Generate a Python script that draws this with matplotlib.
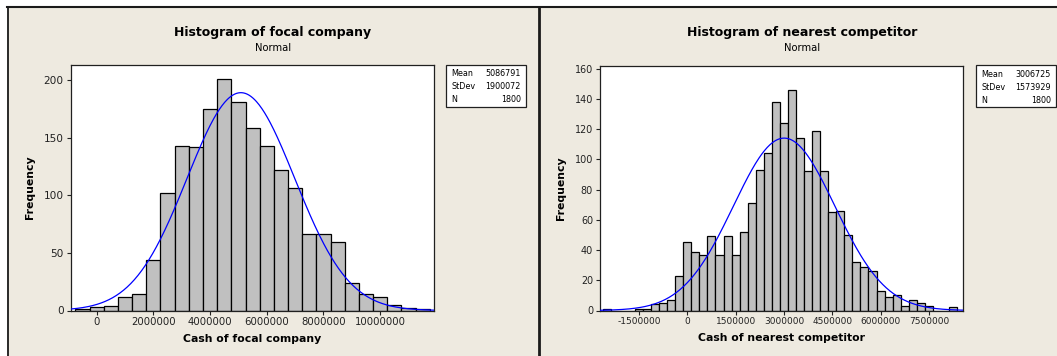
import numpy as np
import matplotlib
matplotlib.use("Agg")
import matplotlib.pyplot as plt
from matplotlib.patches import Rectangle
from matplotlib.lines import Line2D

# focal company: bin midpoints and counts (bin width 500000)
focal_mid = [-500000, 0, 500000, 1000000, 1500000, 2000000, 2500000, 3000000,
             3500000, 4000000, 4500000, 5000000, 5500000, 6000000, 6500000,
             7000000, 7500000, 8000000, 8500000, 9000000, 9500000, 10000000,
             10500000, 11000000, 11500000]
focal_cnt = [1, 3, 4, 12, 14, 44, 102, 143, 142, 175, 201, 181, 158, 143, 122,
             106, 66, 66, 59, 24, 14, 12, 5, 2, 1]
focal_stats = {"Mean": 5086791, "StDev": 1900072, "N": 1800}

# nearest competitor: bin midpoints and counts (bin width 250000)
comp_mid = [-2500000, -2250000, -2000000, -1750000, -1500000, -1250000,
            -1000000, -750000, -500000, -250000, 0, 250000, 500000, 750000,
            1000000, 1250000, 1500000, 1750000, 2000000, 2250000, 2500000,
            2750000, 3000000, 3250000, 3500000, 3750000, 4000000, 4250000,
            4500000, 4750000, 5000000, 5250000, 5500000, 5750000, 6000000,
            6250000, 6500000, 6750000, 7000000, 7250000, 7500000, 7750000,
            8000000, 8250000]
comp_cnt = [1, 0, 0, 0, 1, 1, 4, 5, 7, 23, 45, 39, 37, 49, 37, 49, 37, 52, 71,
            93, 104, 138, 124, 146, 114, 92, 119, 92, 65, 66, 50, 32, 29, 26,
            13, 9, 10, 3, 7, 5, 3, 0, 0, 2]
comp_stats = {"Mean": 3006725, "StDev": 1573929, "N": 1800}

focal_xticks = [0, 2000000, 4000000, 6000000, 8000000, 10000000]
comp_xticks = [-1500000, 0, 1500000, 3000000, 4500000, 6000000, 7500000]

W, H = 1057, 356
BG = "#EEEAE0"
plt.rcParams["font.family"] = "DejaVu Sans"

fig = plt.figure(figsize=(W / 100, H / 100), dpi=100)
fig.patch.set_facecolor("white")


def fx(px):
    return px / W


def fy(py):
    return 1 - py / H


# panel backgrounds and frame lines
fig.patches.append(Rectangle((fx(7), 0), fx(532), fy(6), transform=fig.transFigure,
                             facecolor=BG, edgecolor="none", zorder=-2))
fig.patches.append(Rectangle((fx(539), 0), fx(518), fy(6), transform=fig.transFigure,
                             facecolor=BG, edgecolor="none", zorder=-2))
fig.lines.append(Line2D([fx(7), 1], [fy(6.5), fy(6.5)], transform=fig.transFigure,
                        color="#1a1a1a", lw=1.5, zorder=-1))
fig.lines.append(Line2D([fx(7.5), fx(7.5)], [0, fy(6.5)], transform=fig.transFigure,
                        color="#1a1a1a", lw=1.3, zorder=-1))
fig.lines.append(Line2D([fx(539), fx(539)], [0, fy(6.5)], transform=fig.transFigure,
                        color="#1a1a1a", lw=2, zorder=-1))


def panel(rect, mids, cnts, width, stats, xlim, ylim, yticks, xticks,
          title, xlabel, title_x, box, tick_fs, ytick_fs):
    ax = fig.add_axes(rect)
    ax.set_facecolor("white")
    ax.bar(mids, cnts, width=width, color="#C0C0C0", edgecolor="black",
           linewidth=0.9, zorder=2)
    xs = np.linspace(xlim[0], xlim[1], 400)
    m, s, n = stats["Mean"], stats["StDev"], stats["N"]
    ys = n * width / (s * np.sqrt(2 * np.pi)) * np.exp(-0.5 * ((xs - m) / s) ** 2)
    ax.plot(xs, ys, color="#0000FF", lw=0.9, zorder=3)
    ax.set_xlim(xlim)
    ax.set_ylim(ylim)
    ax.set_xticks(xticks)
    ax.set_xticklabels([str(t) for t in xticks], fontsize=tick_fs)
    ax.set_yticks(yticks)
    ax.set_yticklabels([str(t) for t in yticks], fontsize=ytick_fs)
    ax.tick_params(direction="out", length=3, width=0.8, pad=2, colors="#222222")
    for sp in ax.spines.values():
        sp.set_linewidth(0.9)
        sp.set_color("#202020")
    ax.set_xlabel(xlabel, fontsize=7.8, fontweight="bold", labelpad=5)
    ax.set_ylabel("Frequency", fontsize=7.8, fontweight="bold", labelpad=6)

    fig.text(fx(title_x), fy(32.5), title, fontsize=9, fontweight="bold",
             ha="center", va="center")
    fig.text(fx(title_x), fy(48), "Normal", fontsize=7.2, ha="center", va="center")

    bx0, by0, bx1, by1 = box
    fig.patches.append(Rectangle((fx(bx0), fy(by1)), fx(bx1 - bx0), (by1 - by0) / H,
                                 transform=fig.transFigure, facecolor="white",
                                 edgecolor="#202020", lw=0.9, zorder=1))
    for i, key in enumerate(["Mean", "StDev", "N"]):
        yy = fy(by0 + 9 + i * 13.2)
        fig.text(fx(bx0 + 5), yy, key, fontsize=5.8, ha="left", va="center")
        fig.text(fx(bx1 - 5), yy, str(stats[key]), fontsize=5.8, ha="right",
                 va="center")
    return ax


panel([fx(70.7), fy(310.5), fx(434 - 70.7), (310.5 - 64.5) / H],
      focal_mid, focal_cnt, 500000, focal_stats,
      (-917000, 11900000), (0, 213.4), [0, 50, 100, 150, 200], focal_xticks,
      "Histogram of focal company", "Cash of focal company", 273,
      (446, 64.5, 526, 106.5), 7.3, 7.6)

panel([fx(600), fy(310.5), fx(962.7 - 600), (310.5 - 65.5) / H],
      comp_mid, comp_cnt, 250000, comp_stats,
      (-2710000, 8550000), (0, 162.1), [0, 20, 40, 60, 80, 100, 120, 140, 160],
      comp_xticks,
      "Histogram of nearest competitor", "Cash of nearest competitor", 802,
      (976, 65.5, 1056, 107), 6.5, 6.9)

fig.savefig("out.png", dpi=100, facecolor=fig.get_facecolor())
